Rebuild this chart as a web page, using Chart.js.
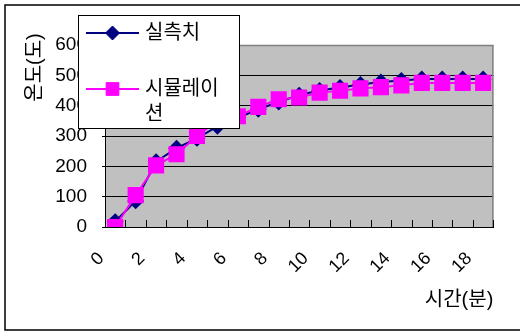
<!DOCTYPE html>
<html>
<head>
<meta charset="utf-8">
<script src="https://cdn.jsdelivr.net/npm/chart.js@4/dist/chart.umd.min.js"></script>
<style>
  html, body { margin: 0; padding: 0; background: #fff; }
  canvas { display: block; }
</style>
</head>
<body>
<canvas id="chart" width="520" height="332"></canvas>
<script>
// Time in minutes (categories)
const timeLabels = ['0','1','2','3','4','5','6','7','8','9','10','11','12','13','14','15','16','17','18'];
// Measured temperature
const measuredTemp = [18, 86, 215, 260, 292, 332, 360, 388, 412, 435, 450, 460, 470, 478, 483, 488, 488, 488, 488];
// Simulated temperature
const simulatedTemp = [0, 105, 203, 240, 300, 350, 365, 396, 421, 427, 443, 449, 457, 461, 467, 475, 475, 475, 475];
// Series names
const seriesNames = ['실측치', '시뮬레이션'];
// Axis titles
const xTitle = '시간(분)';
const yTitle = '온도(도)';
// Value axis range
const yMin = 0, yMax = 600, yStep = 100;

const FONT = "'Liberation Sans', 'Noto Sans CJK KR', sans-serif";
Chart.defaults.color = '#000';
Chart.defaults.font.family = FONT;

// Page background, outer frame and grey plot area
const framePlugin = {
  id: 'frame',
  beforeDraw(chart) {
    const { ctx, chartArea: a } = chart;
    ctx.save();
    ctx.fillStyle = '#fff';
    ctx.fillRect(0, 0, chart.width, chart.height);
    ctx.strokeStyle = '#000';
    ctx.lineWidth = 1.5;
    ctx.strokeRect(5, 5, 540, 325);
    ctx.fillStyle = '#c0c0c0';
    ctx.fillRect(a.left, a.top, a.right - a.left, a.bottom - a.top);
    ctx.restore();
  },
  beforeDatasetsDraw(chart) {
    const { ctx, chartArea: a, scales } = chart;
    const x = scales.x;
    ctx.save();
    // grey frame on top and right of the plot
    ctx.strokeStyle = '#808080';
    ctx.lineWidth = 1.5;
    ctx.beginPath();
    ctx.moveTo(a.left, a.top + 0.5);
    ctx.lineTo(a.right - 0.5, a.top + 0.5);
    ctx.lineTo(a.right - 0.5, a.bottom);
    ctx.stroke();
    // short inward tick marks at category boundaries
    ctx.strokeStyle = '#000';
    ctx.lineWidth = 1;
    const n = timeLabels.length;
    const step = x.getPixelForValue(1) - x.getPixelForValue(0);
    for (let i = 0; i <= n; i++) {
      const px = Math.round(x.getPixelForValue(0) - step / 2 + i * step) + 0.5;
      ctx.beginPath();
      ctx.moveTo(px, a.bottom);
      ctx.lineTo(px, a.bottom - 7);
      ctx.stroke();
    }
    ctx.restore();
  }
};

// Boxed legend drawn over the upper-left corner, plus the vertical axis title
const legendPlugin = {
  id: 'boxLegend',
  afterDraw(chart) {
    const ctx = chart.ctx;
    ctx.save();
    // vertical axis title
    ctx.font = '20px ' + FONT;
    ctx.fillStyle = '#000';
    ctx.translate(35, 67.5);
    ctx.rotate(-Math.PI / 2);
    ctx.textAlign = 'center';
    ctx.textBaseline = 'middle';
    ctx.fillText(yTitle, 0, 0);
    ctx.restore();

    ctx.save();
    const bx = 78.5, by = 15.5, bw = 161, bh = 113;
    ctx.fillStyle = '#fff';
    ctx.fillRect(bx, by, bw, bh);
    ctx.strokeStyle = '#000';
    ctx.lineWidth = 1;
    ctx.strokeRect(bx, by, bw, bh);

    const rowY = [33, 89];
    const markerR = [7, 9];
    const textX = 145, maxW = 90, lineH = 25;
    ctx.font = '20px ' + FONT;
    ctx.textAlign = 'left';
    ctx.textBaseline = 'middle';
    chart.data.datasets.forEach((ds, i) => {
      const y = rowY[i];
      ctx.strokeStyle = ds.borderColor;
      ctx.lineWidth = 2;
      ctx.beginPath();
      ctx.moveTo(86, y);
      ctx.lineTo(139, y);
      ctx.stroke();
      ctx.fillStyle = ds.pointBackgroundColor;
      ctx.strokeStyle = ds.pointBorderColor;
      ctx.lineWidth = 1;
      Chart.helpers.drawPoint(ctx, { pointStyle: ds.pointStyle, radius: markerR[i], rotation: 0, borderWidth: 1 }, 112.5, y);
      // wrap label by characters
      const lines = [];
      let cur = '';
      for (const ch of ds.label) {
        if (cur && ctx.measureText(cur + ch).width > maxW) { lines.push(cur); cur = ch; }
        else cur += ch;
      }
      if (cur) lines.push(cur);
      ctx.fillStyle = '#000';
      lines.forEach((t, k) => ctx.fillText(t, textX, y + k * lineH));
    });
    ctx.restore();
  }
};

new Chart(document.getElementById('chart'), {
  type: 'line',
  data: {
    labels: timeLabels,
    datasets: [
      {
        label: seriesNames[0],
        data: measuredTemp,
        borderColor: '#000080',
        backgroundColor: '#000080',
        pointBackgroundColor: '#000080',
        pointBorderColor: '#000080',
        pointStyle: 'rectRot',
        pointRadius: 7,
        borderWidth: 2,
        tension: 0,
        order: 1
      },
      {
        label: seriesNames[1],
        data: simulatedTemp,
        borderColor: '#ff00ff',
        backgroundColor: '#ff00ff',
        pointBackgroundColor: '#ff00ff',
        pointBorderColor: '#ff00ff',
        pointStyle: 'rect',
        pointRadius: 10,
        borderWidth: 2,
        tension: 0,
        order: 0
      }
    ]
  },
  options: {
    responsive: false,
    animation: false,
    devicePixelRatio: 1,
    layout: { padding: { top: 45, right: 23, bottom: 16, left: 10 } },
    plugins: { legend: { display: false }, tooltip: { enabled: false } },
    elements: { point: { hoverRadius: 0 } },
    scales: {
      x: {
        offset: true,
        afterFit: s => { s.height = 89; },
        grid: { display: true, drawOnChartArea: false, drawTicks: false, offset: true },
        border: { display: true, color: '#000', width: 1 },
        ticks: {
          autoSkip: false,
          minRotation: 45,
          maxRotation: 45,
          padding: 21,
          labelOffset: -14,
          font: { size: 18, family: FONT },
          color: '#000',
          callback: (v, i) => (i % 2 === 0 ? timeLabels[i] : '')
        },
        title: {
          display: true,
          text: xTitle,
          align: 'end',
          font: { size: 20, family: FONT },
          color: '#000',
          padding: { top: 4, bottom: 4 }
        }
      },
      y: {
        min: yMin,
        max: yMax,
        afterFit: s => { s.width = 95; },
        grid: {
          color: c => (c.tick && c.tick.value === yMax ? '#808080' : '#000'),
          lineWidth: 1,
          drawTicks: true,
          tickLength: 3
        },
        border: { display: true, color: '#000', width: 1 },
        ticks: {
          stepSize: yStep,
          padding: 15,
          font: { size: 19, family: FONT },
          color: '#000'
        }
      }
    }
  },
  plugins: [framePlugin, legendPlugin]
});
</script>
</body>
</html>
